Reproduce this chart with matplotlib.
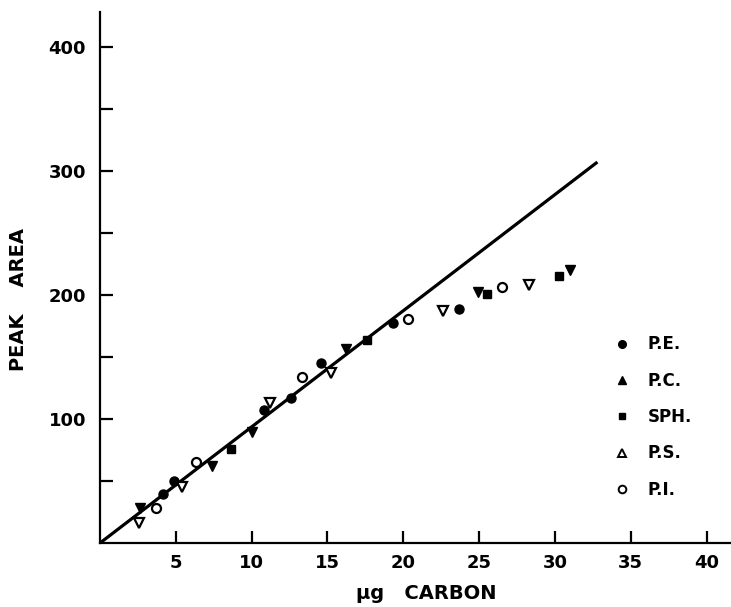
import matplotlib.pyplot as plt
from matplotlib.lines import Line2D

# data
pe_x = [4.13, 4.88, 10.8, 12.6, 14.6, 19.3, 23.7]
pe_y = [39.5, 50.2, 107, 117, 145.4, 177, 188.4]
pc_x = [2.64, 7.37, 10.05, 16.2, 24.9, 31.0]
pc_y = [28.5, 62.1, 89.3, 156.5, 202, 220]
sph_x = [8.65, 17.6, 25.5, 30.3]
sph_y = [75.5, 163.7, 201, 215.3]
ps_x = [2.6, 5.39, 11.2, 15.2, 22.6, 28.3]
ps_y = [15.9, 45.4, 113, 136.8, 187, 208]
pi_x = [3.67, 6.34, 13.3, 20.3, 26.5]
pi_y = [28.5, 65.6, 133.6, 180.6, 206.7]
line_x = [0, 32.8]
line_y = [0, 307]

plt.rcParams['font.family'] = ['DejaVu Sans']
plt.rcParams['font.weight'] = 'bold'

fig = plt.figure(figsize=(7.31, 6.07), dpi=100)
ax = fig.add_axes([0.1368, 0.1054, 0.863, 0.875])

ax.plot(line_x, line_y, color='black', lw=2.3, solid_capstyle='butt', zorder=2)

ms = 6.5
ax.plot(pe_x, pe_y, 'o', color='black', ms=ms, zorder=3)
ax.plot(pc_x, pc_y, 'v', color='black', ms=ms, zorder=3)
ax.plot(sph_x, sph_y, 's', color='black', ms=ms - 1, zorder=3)
ax.plot(ps_x, ps_y, 'v', mfc='white', mec='black', mew=1.6, ms=ms, zorder=3)
ax.plot(pi_x, pi_y, 'o', mfc='white', mec='black', mew=1.6, ms=ms, zorder=3)

ax.set_xlim(0, 41.6)
ax.set_ylim(0, 428)
ax.spines['top'].set_visible(False)
ax.spines['right'].set_visible(False)
ax.spines['left'].set_linewidth(1.6)
ax.spines['bottom'].set_linewidth(1.6)

ax.set_xticks([5, 10, 15, 20, 25, 30, 35, 40])
ax.set_yticks([100, 200, 300, 400])
ax.set_yticks([50, 150, 250, 350], minor=True)
ax.tick_params(axis='both', which='both', direction='in', width=1.6, length=9,
               labelsize=13, pad=10)
ax.tick_params(axis='x', pad=8)
for lab in ax.get_xticklabels() + ax.get_yticklabels():
    lab.set_fontweight('bold')

ax.set_ylabel('PEAK    AREA', fontsize=14, fontweight='bold')
ax.yaxis.set_label_coords(-0.114, 0.458)
ax.set_xlabel('μg   CARBON', fontsize=14, fontweight='bold')
ax.xaxis.set_label_coords(0.517, -0.077)

handles = [
    Line2D([], [], ls='', marker='o', color='black', ms=5.5),
    Line2D([], [], ls='', marker='^', color='black', ms=5.5),
    Line2D([], [], ls='', marker='s', color='black', ms=4.5),
    Line2D([], [], ls='', marker='^', mfc='white', mec='black', mew=1.4, ms=5.5),
    Line2D([], [], ls='', marker='o', mfc='white', mec='black', mew=1.4, ms=5.5),
]
labels = ['P.E.', 'P.C.', 'SPH.', 'P.S.', 'P.I.']
leg = ax.legend(handles, labels, loc='upper left', bbox_to_anchor=(0.791, 0.419),
                frameon=False, prop={'size': 12, 'weight': 'bold'},
                labelspacing=1.1, handletextpad=1.0, handlelength=1.0)

fig.savefig('out.png', dpi=100)
